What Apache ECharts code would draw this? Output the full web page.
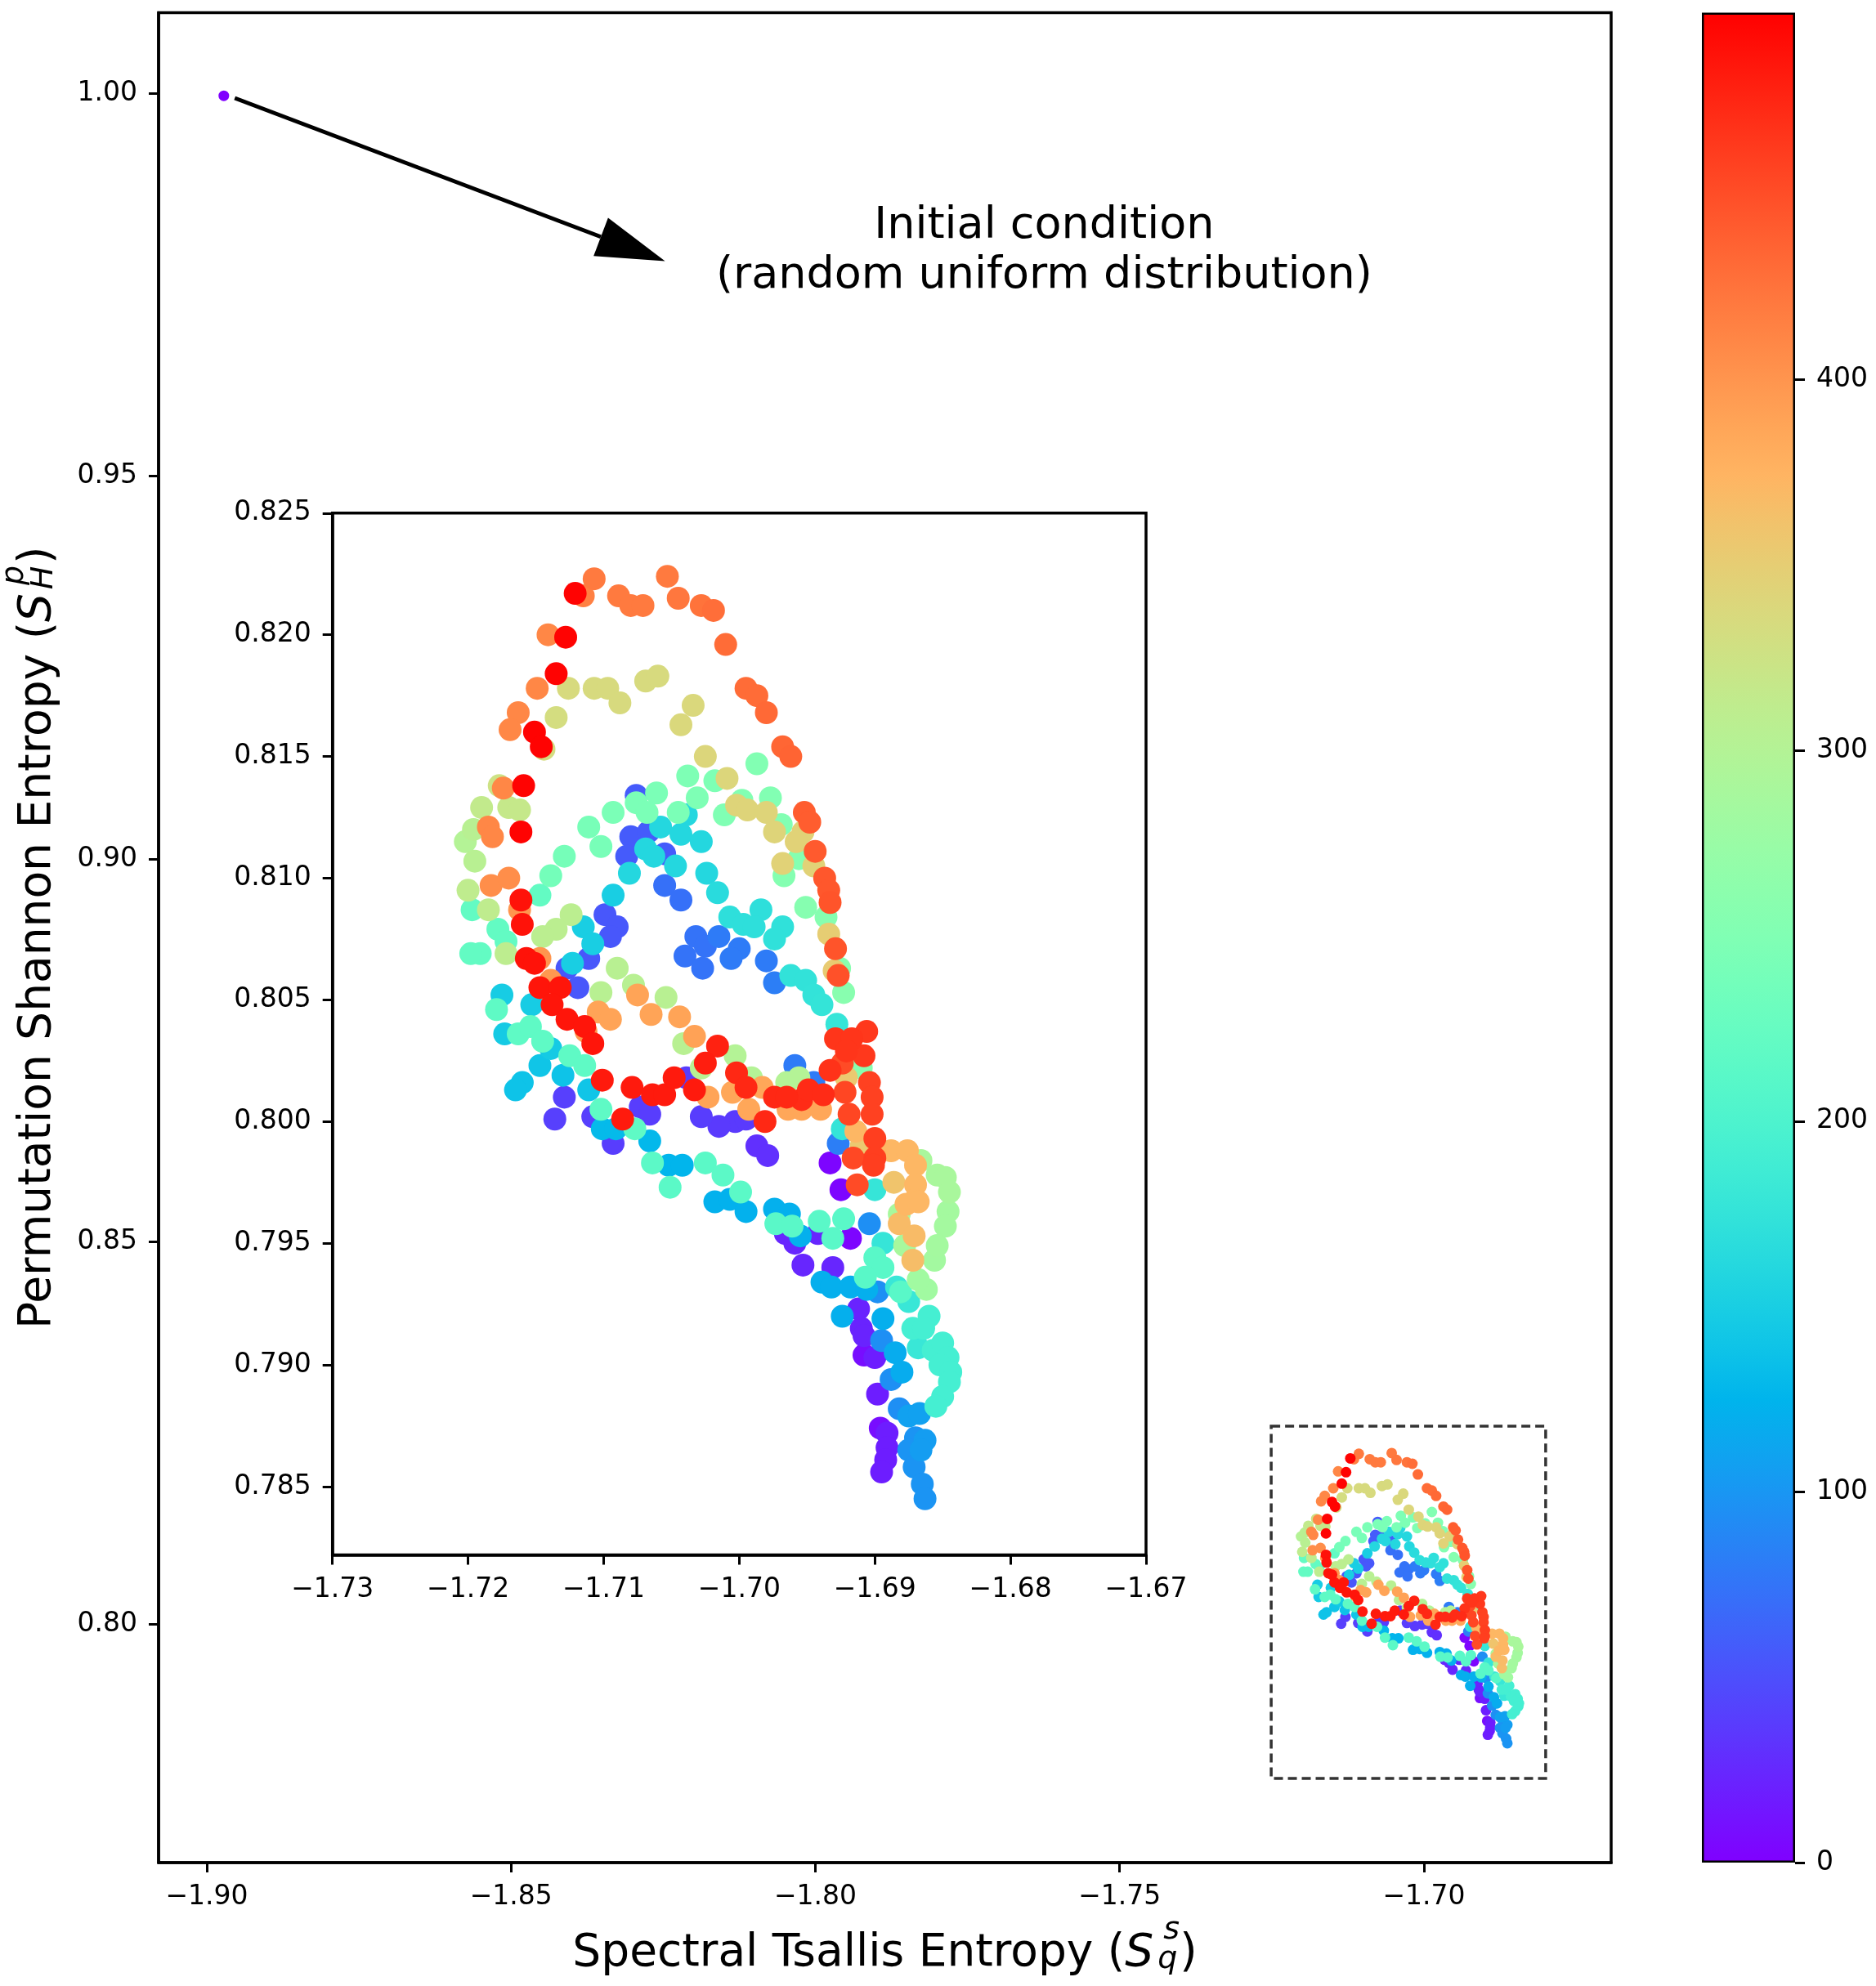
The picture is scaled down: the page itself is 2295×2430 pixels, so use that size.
<!DOCTYPE html>
<html>
<head>
<meta charset="utf-8">
<script src="https://cdn.jsdelivr.net/npm/echarts@6/dist/echarts.min.js"></script>
<style>
html, body { margin: 0; padding: 0; background: #fff; }
#chart { width: 2295px; height: 2430px; }
</style>
</head>
<body>
<div id="chart"></div>
<script>
// 谱 Tsallis 熵 (x), 排列 Shannon 熵 (y), 时间步 (颜色)
var tsallis = [
 -1.7107,-1.7121,-1.7115,-1.7053,-1.7089,-1.7080,-1.7071,-1.7045,-1.7028,-1.7019,-1.7010,
 -1.7141,-1.7128,-1.7135,-1.7149,-1.7126,-1.7107,-1.7097,-1.7088,-1.7069,-1.7060,-1.7034,-1.7043,
 -1.7163,-1.7169,-1.7151,-1.7146,-1.7144,-1.7135,-1.7025,
 -1.7177,-1.7174,-1.7159,-1.7190,-1.7170,-1.7162,-1.7196,-1.7185,-1.7182,-1.7161,-1.7202,-1.7195,
 -1.7038,-1.7018,-1.7061,-1.7031,-1.7076,-1.7076,-1.7068,-1.7093,-1.7045,-1.7039,-1.7111,-1.7058,
 -1.7080,-1.7067,-1.7043,-1.7028,-1.7102,-1.7129,-1.7083,-1.7069,-1.7063,-1.7055,-1.7139,-1.7081,-1.7047,-1.7024,-1.7011,-1.7009,
 -1.6995,-1.6987,-1.6980,-1.6968,-1.6962,-1.6987,-1.6998,-1.6977,-1.7002,-1.6994,-1.6980,-1.6969,-1.6952,-1.6948,-1.6974,-1.6953,-1.6958,-1.6956,-1.6944,-1.6968,-1.6945,
 -1.6967,-1.6937,-1.6934,-1.6933,
 -1.7016,-1.6984,-1.7007,-1.6997,-1.6989,-1.6968,-1.6974,-1.7015,-1.7000,-1.7006,-1.6980,-1.6974,-1.6962,-1.6951,-1.6945,-1.6939,
 -1.6951,-1.6936,-1.6934,-1.6929,-1.6930,-1.6927,-1.6926,-1.6923,-1.6928,
 -1.6929,-1.6917,-1.6906,-1.6921,-1.6908,-1.6924,-1.6933,-1.6910,-1.6921,-1.6904,-1.6922,-1.6902,-1.6919,-1.6902,-1.6914,-1.6900,-1.6900,-1.6916,-1.6901,-1.6913,
 -1.6888,-1.6876,-1.6866,-1.6870,-1.6886,-1.6870,-1.6854,-1.6848,-1.6845,-1.6870,-1.6900,-1.6910,-1.6927,-1.6924,-1.6933,-1.6925,
 -1.7016,-1.7003,-1.7002,-1.6995,-1.6991,-1.6983,-1.7005,-1.6993,-1.6981,-1.6974,-1.6965,-1.6954,-1.6949,-1.6938,-1.6965,-1.6956,-1.6959,-1.6945,-1.6964,-1.6954,-1.6940,
 -1.7003,-1.6995,-1.7015,-1.6987,-1.6979,-1.7012,-1.6999,
 -1.7200,-1.7183,-1.7170,-1.7147,-1.7161,-1.7162,-1.7160,-1.7185,-1.7197,-1.7178,
 -1.7124,-1.7135,-1.7145,-1.7172,-1.7191,-1.7198,-1.7172,-1.7157,-1.7151,-1.7147,
 -1.7115,-1.7108,-1.7099,-1.7090,-1.7095,-1.7111,-1.7123,-1.7127,-1.7093,
 -1.7055,-1.7043,-1.7032,-1.7025,-1.7040,-1.7027,
 -1.7090,-1.7078,-1.7102,-1.7075,-1.7054,-1.7065,-1.7044,-1.7104,-1.7095,-1.7033,-1.7041,-1.7025,-1.7028,
 -1.7147,-1.7132,-1.7139,-1.7138,-1.7119,-1.7153,-1.7175,-1.7179,-1.7127,-1.7114,-1.7113,-1.7108,
 -1.7173,-1.7163,-1.7154,-1.7145,-1.7139,-1.7147,-1.7125,-1.7114,-1.7130,-1.7160,-1.7165,
 -1.7101,-1.7079,-1.7064,-1.7055,-1.7048,-1.7033,-1.7039,-1.7023,-1.7028,-1.7129,-1.7111,-1.7102,-1.7108,-1.7086,-1.7073,-1.7066,
 -1.7101,-1.7091,-1.7077,-1.7093,-1.7066,-1.7136,-1.7064,-1.7052,-1.7042,-1.7025,-1.7051,-1.7018,
 -1.7007,-1.6995,-1.6974,-1.6963,-1.6973,-1.6961,-1.6966,-1.6959,-1.6955,-1.6941,-1.6942,-1.6931,-1.6923,-1.6918,-1.6904,-1.6894,
 -1.6877,-1.6868,-1.6882,-1.6871,-1.6872,-1.6878,-1.6882,-1.6846,-1.6848,-1.6854,-1.6856,-1.6862,-1.6868,
 -1.6900,-1.6894,-1.6907,-1.6953,-1.6931,-1.6939,-1.6932,-1.6918,-1.6906,-1.6898,-1.6884,-1.6881,-1.6875,
 -1.6912,-1.6924,-1.6894,-1.6910,-1.6908,-1.6895,-1.6908,-1.6900,-1.6885,-1.6880,-1.6888,
 -1.6860,-1.6872,-1.6864,-1.6868,-1.6857,-1.6850,-1.6846,-1.6852,-1.6844,-1.6845,-1.6850,-1.6855,
 -1.6898,-1.6882,-1.6875,-1.6867,-1.6896,-1.6891,-1.6891,-1.6892,-1.6895,-1.6870,-1.6863,-1.6875,-1.6866,-1.6871,-1.6865,-1.6863
];
var shannon = [
 0.8223,0.8217,0.8216,0.8224,0.8216,0.8212,0.8212,0.8215,0.8212,0.8210,0.8196,
 0.8200,0.8199,0.8184,0.8178,0.8178,0.8178,0.8178,0.8172,0.8181,0.8183,0.8171,0.8163,
 0.8168,0.8161,0.8160,0.8154,0.8153,0.8166,0.8150,
 0.8138,0.8137,0.8138,0.8129,0.8129,0.8128,0.8120,0.8121,0.8117,0.8119,0.8115,0.8107,
 0.8142,0.8140,0.8135,0.8133,0.8134,0.8131,0.8127,0.8127,0.8127,0.8126,0.8121,0.8121,
 0.8117,0.8119,0.8118,0.8115,0.8113,0.8109,0.8109,0.8112,0.8109,0.8110,0.8101,0.8102,0.8105,0.8102,0.8126,0.8141,
 0.8178,0.8175,0.8168,0.8154,0.8150,0.8147,0.8132,0.8133,0.8130,0.8128,0.8127,0.8122,0.8127,0.8123,0.8119,0.8119,0.8115,0.8108,0.8111,0.8106,0.8105,
 0.8101,0.8100,0.8095,0.8090,
 0.8094,0.8087,0.8084,0.8081,0.8080,0.8080,0.8075,0.8076,0.8071,0.8067,0.8066,0.8057,0.8060,0.8058,0.8052,0.8048,
 0.8088,0.8084,0.8077,0.8071,0.8062,0.8060,0.8063,0.8053,0.8040,
 0.8034,0.8034,0.8037,0.8029,0.8027,0.8024,0.8021,0.8022,0.8018,0.8016,0.8012,0.8010,0.8003,0.8003,0.7996,0.7993,0.7985,0.7985,0.7982,0.7974,
 0.7988,0.7988,0.7984,0.7982,0.7975,0.7974,0.7978,0.7977,0.7971,0.7968,0.7972,0.7990,0.7991,0.7997,0.7983,0.7972,
 0.8031,0.8027,0.8020,0.8014,0.8018,0.8014,0.8012,0.8005,0.8000,0.8010,0.8010,0.8009,0.8013,0.8011,0.8016,0.8018,0.8023,0.8016,0.8005,0.8005,0.8005,
 0.8000,0.8001,0.7998,0.7990,0.7986,0.7978,0.7971,
 0.8095,0.8097,0.8100,0.8093,0.8091,0.8087,0.8081,0.8087,0.8087,0.8079,
 0.8085,0.8079,0.8076,0.8069,0.8069,0.8069,0.8074,0.8067,0.8065,0.8067,
 0.8080,0.8073,0.8085,0.8080,0.8076,0.8067,0.8065,0.8063,0.8093,
 0.8097,0.8091,0.8076,0.8072,0.8068,0.8063,
 0.8063,0.8056,0.8053,0.8052,0.8051,0.8044,0.8043,0.8045,0.8042,0.8035,0.8032,0.8024,0.8022,
 0.8055,0.8055,0.8058,0.8048,0.8055,0.8048,0.8052,0.8046,0.8042,0.8039,0.8037,0.8032,
 0.8036,0.8036,0.8039,0.8033,0.8030,0.8023,0.8027,0.8023,0.8019,0.8016,0.8013,
 0.8017,0.8014,0.8011,0.8011,0.8018,0.8013,0.8018,0.8010,0.8002,0.8010,0.8013,0.8005,0.8002,0.8001,0.8006,0.8003,
 0.7997,0.7997,0.7997,0.7991,0.7992,0.8001,0.7983,0.7982,0.7982,0.7983,0.7973,0.7967,
 0.7968,0.7963,0.7964,0.7962,0.7958,0.7957,0.7954,0.7950,0.7953,0.7959,0.7954,0.7952,0.7960,0.7952,0.7958,0.7950,
 0.7966,0.7967,0.7958,0.7953,0.7943,0.7949,0.7962,0.7963,0.7957,0.7949,0.7943,0.7931,0.7935,
 0.7944,0.7940,0.7936,0.7941,0.7940,0.7934,0.7932,0.7932,0.7931,0.7930,0.7932,0.7930,0.7926,
 0.7923,0.7920,0.7919,0.7915,0.7912,0.7910,0.7904,0.7903,0.7905,0.7897,0.7894,
 0.7920,0.7915,0.7915,0.7907,0.7906,0.7909,0.7903,0.7900,0.7897,0.7893,0.7887,0.7883,
 0.7888,0.7882,0.7879,0.7880,0.7874,0.7872,0.7866,0.7861,0.7856,0.7870,0.7869,0.7865,0.7865,0.7858,0.7851,0.7845
];
var step = [
 420,497,415,420,420,420,420,422,425,428,430,
 410,497,497,410,335,335,335,335,335,335,338,338,
 410,410,497,497,332,332,340,
 325,410,497,315,318,318,305,410,410,497,300,305,
 248,248,245,248,58,245,245,245,245,160,242,160,
 58,58,160,160,242,240,58,160,160,58,238,160,160,160,250,340,
 430,430,432,434,435,252,252,252,342,342,342,252,440,440,342,345,345,254,442,345,345,
 254,444,444,446,
 165,170,170,170,170,172,172,80,80,80,80,82,174,174,175,176,
 256,256,350,446,352,448,258,258,178,
 466,466,464,466,464,452,468,258,355,458,455,458,455,458,372,460,460,454,460,452,
 372,372,290,372,360,372,290,290,290,372,178,355,82,176,3,3,
 478,300,474,474,300,386,386,386,474,474,474,472,472,472,300,300,80,80,386,386,386,
 36,36,36,30,30,215,214,
 312,405,405,222,488,400,488,312,222,222,
 308,308,308,310,222,222,222,488,488,400,
 150,150,55,55,55,55,150,55,150,
 72,72,74,74,74,74,
 305,305,305,388,305,388,388,388,388,390,305,480,305,
 486,486,398,486,55,148,148,218,486,486,398,486,
 146,218,218,218,146,140,218,218,138,138,138,
 483,483,483,483,483,483,38,388,38,40,140,218,40,483,38,38,
 130,130,218,38,128,40,215,126,126,214,214,122,
 122,122,121,121,213,213,24,24,121,213,24,213,213,3,95,178,
 372,372,368,368,366,288,288,285,285,285,284,282,282,
 212,212,212,24,24,120,120,120,120,95,180,212,180,
 22,120,120,22,22,95,8,18,118,118,95,
 192,192,192,180,192,192,192,192,192,192,192,192,
 18,95,108,108,8,18,18,18,18,98,105,98,105,98,98,98
];

// 初始条件 (随机均匀分布)
var startPoint = [-1.8972, 0.9997, 0];
var stepMax = 499;

var mainXTicks = [-1.90, -1.85, -1.80, -1.75, -1.70];
var mainYTicks = [0.80, 0.85, 0.90, 0.95, 1.00];
var insetYTicks = [0.785, 0.790, 0.795, 0.800, 0.805, 0.810, 0.815, 0.820, 0.825];
var zoomBox = [[-1.7251, 0.8259], [-1.6800, 0.7799]];
var arrowFrom = [-1.8954, 0.9994];
var arrowTo = [-1.8247, 0.9781];
var noteAt = [-1.7624, 0.9794];

var FONT = 'DejaVu Sans';

// matplotlib rainbow
function rainbow(f) {
    function c(v) { v = Math.max(0, Math.min(1, v)); return Math.round(v * 255); }
    return 'rgb(' + c(Math.abs(2 * f - 0.5)) + ',' + c(Math.sin(f * Math.PI)) + ',' + c(Math.cos(f * Math.PI / 2)) + ')';
}
var rainbowColors = [];
var colorStops = [];
for (var k = 0; k <= 40; k++) {
    rainbowColors.push(rainbow(k / 40));
    colorStops.push({ offset: k / 40, color: rainbow(k / 40) });
}

function fmt(d) {
    return function (v) {
        var s = Math.abs(v).toFixed(d);
        return (v < 0 ? '\u2212' : '') + s;
    };
}

var pts = [];
for (var i = 0; i < tsallis.length; i++) {
    pts.push([tsallis[i], shannon[i], step[i]]);
}
pts.push(startPoint);
pts.sort(function (a, b) { return a[2] - b[2]; });

var labelStyle = { color: '#000', fontSize: 33, fontFamily: FONT, margin: 26 };
var tickStyle = { show: true, inside: false, length: 12, lineStyle: { color: '#000', width: 3 } };
var lineStyle = { show: true, lineStyle: { color: '#000', width: 3.5 } };

// 上下标叠放: token 宽度设为 1, 文字居中于 token, 用左右 padding 调位置
var nameRich = {
    n: { fontSize: 55, fontFamily: FONT, color: '#000' },
    it: { fontSize: 55, fontFamily: FONT, fontStyle: 'italic', color: '#000' },
    subq: { fontSize: 38, fontFamily: FONT, fontStyle: 'italic', color: '#000', width: 1, padding: [14, 0, 0, 16.5] },
    sups: { fontSize: 38, fontFamily: FONT, fontStyle: 'italic', color: '#000', width: 1, padding: [0, 9.5, 58, 4] },
    subH: { fontSize: 38, fontFamily: FONT, fontStyle: 'italic', color: '#000', width: 1, padding: [14, 0, 0, 18.5] },
    supp: { fontSize: 38, fontFamily: FONT, fontStyle: 'italic', color: '#000', width: 1, padding: [0, 13.5, 58, 2] }
};

var chart = echarts.init(document.getElementById('chart'));

var option = {
    animation: false,
    backgroundColor: '#fff',
    grid: [
        { left: 194, top: 15.5, width: 1777, height: 2263.5, outerBoundsMode: 'none', containLabel: false,
          show: true, borderColor: '#000', borderWidth: 3.5, backgroundColor: 'transparent' },
        { left: 406.7, top: 627.8, width: 995.3, height: 1274.8, outerBoundsMode: 'none', containLabel: false,
          show: true, borderColor: '#000', borderWidth: 3.5, backgroundColor: '#fff' },
        { left: 2082, top: 15.5, width: 114, height: 2263.5, outerBoundsMode: 'none', containLabel: false, show: false }
    ],
    xAxis: [
        {
            gridIndex: 0, type: 'value', min: -1.90792, max: -1.66924,
            name: '{n|Spectral Tsallis Entropy (}{it|S}{subq|q}{sups|s}{n|)}',
            nameLocation: 'middle', nameGap: 8,
            nameTextStyle: { rich: nameRich },
            axisLine: lineStyle,
            axisTick: Object.assign({ customValues: mainXTicks }, tickStyle),
            axisLabel: Object.assign({ customValues: mainXTicks, formatter: fmt(2) }, labelStyle),
            splitLine: { show: false }
        },
        {
            gridIndex: 1, type: 'value', min: -1.73, max: -1.67, interval: 0.01,
            axisLine: lineStyle,
            axisTick: tickStyle,
            axisLabel: Object.assign({ formatter: fmt(2), showMinLabel: true, showMaxLabel: true }, labelStyle),
            splitLine: { show: false }
        },
        {
            gridIndex: 2, type: 'category', data: ['c'], show: false
        }
    ],
    yAxis: [
        {
            gridIndex: 0, type: 'value', min: 0.7689, max: 1.01056,
            name: '{n|Permutation Shannon Entropy (}{it|S}{subH|H}{supp|p}{n|)}',
            nameLocation: 'middle', nameGap: 99, nameRotate: 90,
            nameTextStyle: { rich: nameRich },
            axisLine: lineStyle,
            axisTick: Object.assign({ customValues: mainYTicks }, tickStyle),
            axisLabel: Object.assign({ customValues: mainYTicks, formatter: fmt(2) }, labelStyle),
            splitLine: { show: false }
        },
        {
            gridIndex: 1, type: 'value', min: 0.78219, max: 0.825,
            axisLine: lineStyle,
            axisTick: Object.assign({ customValues: insetYTicks }, tickStyle),
            axisLabel: Object.assign({ customValues: insetYTicks, formatter: fmt(3) }, labelStyle),
            splitLine: { show: false }
        },
        {
            gridIndex: 2, type: 'value', min: 0, max: stepMax, interval: 100, position: 'right',
            axisLine: { show: false },
            axisTick: tickStyle,
            axisLabel: Object.assign({ formatter: function (v) { return String(v); }, showMaxLabel: false }, labelStyle),
            splitLine: { show: false }
        }
    ],
    visualMap: {
        type: 'continuous', show: false, min: 0, max: stepMax, dimension: 2,
        seriesIndex: [0, 1], inRange: { color: rainbowColors }
    },
    series: [
        {
            type: 'scatter', xAxisIndex: 0, yAxisIndex: 0, symbolSize: 13,
            data: pts, silent: true, itemStyle: { opacity: 1 }
        },
        {
            type: 'scatter', xAxisIndex: 1, yAxisIndex: 1, symbolSize: 28, clip: true,
            data: pts, silent: true, itemStyle: { opacity: 1 }
        },
        {
            type: 'bar', xAxisIndex: 2, yAxisIndex: 2, data: [stepMax],
            barWidth: '100%', silent: true,
            itemStyle: {
                color: { type: 'linear', x: 0, y: 1, x2: 0, y2: 0, colorStops: colorStops },
                borderColor: '#000', borderWidth: 2.5
            }
        }
    ]
};
chart.setOption(option);

// 箭头, 注释文字, 虚线框
function annotate() {
    var a = chart.convertToPixel({ gridIndex: 0 }, arrowFrom);
    var b = chart.convertToPixel({ gridIndex: 0 }, arrowTo);
    var dx = b[0] - a[0], dy = b[1] - a[1];
    var len = Math.sqrt(dx * dx + dy * dy);
    var ux = dx / len, uy = dy / len;
    var headLen = 84, headW = 50;
    var bx = b[0] - ux * headLen, by = b[1] - uy * headLen;
    var n = chart.convertToPixel({ gridIndex: 0 }, noteAt);
    var p1 = chart.convertToPixel({ gridIndex: 0 }, zoomBox[0]);
    var p2 = chart.convertToPixel({ gridIndex: 0 }, zoomBox[1]);
    chart.setOption({
        graphic: [
            { type: 'line', z: 50, shape: { x1: a[0], y1: a[1], x2: bx, y2: by }, style: { stroke: '#000', lineWidth: 5 } },
            {
                type: 'polygon', z: 50,
                shape: { points: [[b[0], b[1]], [bx - uy * headW / 2, by + ux * headW / 2], [bx + uy * headW / 2, by - ux * headW / 2]] },
                style: { fill: '#000' }
            },
            {
                type: 'text', z: 50, x: n[0], y: n[1],
                style: {
                    text: 'Initial condition\n(random uniform distribution)',
                    fontSize: 54, fontFamily: FONT, fill: '#000',
                    align: 'center', verticalAlign: 'middle', lineHeight: 61
                }
            },
            {
                type: 'rect', z: 50,
                shape: { x: p1[0], y: p1[1], width: p2[0] - p1[0], height: p2[1] - p1[1] },
                style: { fill: null, stroke: '#333', lineWidth: 3.5, lineDash: [11, 6] }
            }
        ]
    });
}
annotate();
</script>
</body>
</html>
